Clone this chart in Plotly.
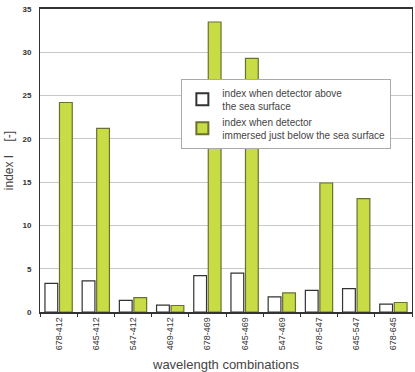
import plotly.graph_objects as go

categories = ["678-412", "645-412", "547-412", "469-412", "678-469",
              "645-469", "547-469", "678-547", "645-547", "678-645"]
above = [3.3, 3.6, 1.35, 0.8, 4.2, 4.5, 1.75, 2.5, 2.7, 0.9]
below = [24.2, 21.2, 1.65, 0.75, 33.5, 29.3, 2.2, 14.9, 13.1, 1.1]
name_above = "index when detector above<br>the sea surface"
name_below = "index when detector<br>immersed just below the sea surface"

fig = go.Figure()
fig.add_trace(go.Bar(x=categories, y=above, name=name_above,
                     marker=dict(color="white", line=dict(color="#333333", width=1.2))))
fig.add_trace(go.Bar(x=categories, y=below, name=name_below,
                     marker=dict(color="#c8dc46", line=dict(color="#6a7030", width=1.2))))

fig.update_layout(
    width=415, height=372,
    margin=dict(l=40, r=3, t=9, b=60),
    paper_bgcolor="white", plot_bgcolor="white",
    font=dict(family="Liberation Sans, Arial, sans-serif", color="#333333"),
    bargap=0.22, bargroupgap=0.12,
    showlegend=True,
    legend=dict(x=0.38, y=0.77, xanchor="left", yanchor="top",
                bgcolor="white", bordercolor="#aaaaaa", borderwidth=1,
                font=dict(size=10, color="#444444"), tracegroupgap=0,
                itemsizing="constant", itemwidth=30),
    xaxis=dict(tickangle=-90, tickfont=dict(size=9, color="#333333"), ticks="outside",
               tickson="boundaries", ticklen=3, tickcolor="#333333",
               showline=True, linecolor="#333333", linewidth=1.5, mirror=True,
               automargin=False,
               title=dict(text="wavelength combinations", font=dict(size=13, color="#444444"),
                          standoff=12)),
    yaxis=dict(range=[0, 35], dtick=5,
               tickfont=dict(size=8, color="#333333", family="Liberation Sans, Arial, sans-serif", weight="bold"),
               showgrid=True, gridcolor="#c8c8c8", gridwidth=1,
               showline=True, linecolor="#333333", linewidth=1, mirror=True,
               automargin=False,
               ticks="outside", ticklen=6, tickcolor="rgba(0,0,0,0)", zeroline=False,
               title=dict(text="index I    [-]", font=dict(size=12, color="#444444"),
                          standoff=6)),
)

fig.write_html("out.html")
